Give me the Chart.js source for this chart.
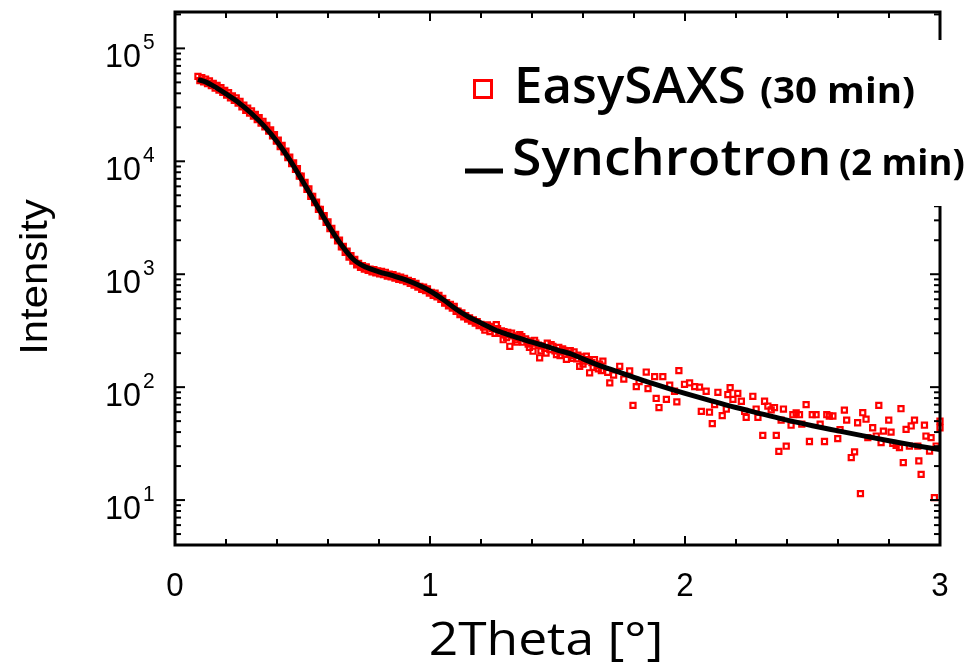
<!DOCTYPE html>
<html><head><meta charset="utf-8">
<script src="https://cdn.jsdelivr.net/npm/chart.js@4/dist/chart.umd.min.js"></script>
<style>html,body{margin:0;padding:0;background:#fff;overflow:hidden}</style>
</head><body>
<canvas id="c" width="976" height="667"></canvas>
<script>
// ---- axis definitions ----
const xTickValues = [0, 1, 2, 3];
const xTickLabels = ['0', '1', '2', '3'];
const yTickValues = [10, 100, 1000, 10000, 100000];
const yTickExponents = ['1', '2', '3', '4', '5'];
const xTitle = '2Theta [°]';
const yTitle = 'Intensity';
const seriesNames = ['EasySAXS', 'Synchrotron'];
const seriesNotes = ['(30 min)', '(2 min)'];

// ---- Synchrotron (2 min), solid black line ----
const synchX = [0.09,0.12,0.15,0.2,0.25,0.3,0.35,0.4,0.45,0.5,0.55,0.6,0.65,0.7,0.75,0.8,0.85,0.9,0.95,1.0,1.05,1.1,1.15,1.2,1.25,1.3,1.35,1.4,1.45,1.5,1.55,1.6,1.65,1.7,1.75,1.8,1.85,1.9,1.95,2.0,2.1,2.2,2.3,2.4,2.5,2.6,2.7,2.8,2.9,3.0];
const synchY = [53000,50500,46500,39500,33000,26500,20500,15000,10300,6700,4300,2750,1850,1350,1150,1050,975,900,810,710,600,495,420,370,325,295,272,250,232,213,198,178,160,146,134,122,112,103,95,88,76,66,58,51,45.5,41,37,33.5,30.5,28];

// ---- EasySAXS (30 min), red open squares ----
const easyX = [
0.09,0.105,0.12,0.135,0.15,0.165,0.18,0.195,0.21,0.225,0.24,0.255,0.27,0.285,0.3,0.315,0.33,0.345,0.36,0.375,0.39,0.405,0.42,0.435,0.45,0.465,0.48,0.495,0.51,0.525,0.54,0.555,0.57,0.585,0.6,0.615,0.63,0.645,0.66,0.675,0.69,0.705,0.72,0.735,0.75,0.765,0.78,0.795,0.81,0.825,0.84,0.855,0.87,0.885,0.9,0.915,0.93,0.945,0.96,0.975,0.99,1.005,1.02,1.035,1.05,1.065,1.08,1.095,1.11,1.125,1.14,1.155,1.17,1.185,1.2,
0.0975,0.1125,0.1275,0.1425,0.1575,0.1725,0.1875,0.2025,0.2175,0.2325,0.2475,0.2625,0.2775,0.2925,0.3075,0.3225,0.3375,0.3525,0.3675,0.3825,0.3975,0.4125,0.4275,0.4425,0.4575,0.4725,0.4875,0.5025,0.5175,0.5325,0.5475,0.5625,0.5775,0.5925,0.6075,0.6225,0.6375,0.6525,0.6675,0.6825,0.6975,0.7125,0.7275,0.7425,0.7575,0.7725,0.7875,0.8025,0.8175,0.8325,0.8475,0.8625,0.8775,0.8925,0.9075,0.9225,0.9375,0.9525,0.9675,0.9825,0.9975,1.0125,1.0275,1.0425,1.0575,1.0725,1.0875,1.1025,1.1175,1.1325,1.1475,1.1625,1.1775,1.1925,
1.21,1.225,1.235,1.245,1.26,1.27,1.28,1.287,1.295,1.305,1.313,1.325,1.335,1.345,1.352,1.365,1.375,1.385,1.395,1.404,1.415,1.43,1.44,1.45,1.46,1.47,1.482,1.496,1.505,1.515,1.525,1.535,1.545,1.555,1.565,1.575,1.587,1.595,1.605,1.613,1.626,1.635,1.645,1.655,1.665,1.672,
1.215,1.24,1.255,1.265,1.29,1.3,1.32,1.34,1.36,1.38,1.39,1.41,1.425,1.435,1.455,1.475,1.49,1.51,1.52,1.53,1.55,1.56,1.58,1.6,1.62,1.64,1.66,
1.678,1.697,1.705,1.72,1.744,1.76,1.783,1.796,1.809,1.82,1.848,1.855,1.881,1.887,1.898,1.913,1.927,1.94,1.959,1.968,1.976,1.998,2.018,2.038,2.057,2.064,2.083,2.096,2.107,2.116,2.129,2.146,2.162,2.168,2.177,2.188,2.207,2.221,2.234,2.24,2.266,2.279,2.286,2.305,2.312,2.325,2.338,2.351,2.358,2.368,2.377,2.386,2.397,2.416,2.423,2.436,2.449,2.458,2.475,2.488,2.499,2.514,2.53,2.547,2.556,2.566,2.58,2.599,2.608,2.625,2.634,2.652,2.665,2.677,2.688,2.697,2.71,2.717,2.736,2.75,2.76,2.769,2.778,2.799,2.808,2.815,2.828,2.841,2.847,2.856,2.867,2.88,2.887,2.9,2.913,2.917,2.926,2.939,2.945,2.959,2.965,2.978,2.985,3.0,3.0];
const easyY = [
56500,55000,53500,51500,49000,47000,45000,42500,40500,38000,36500,34000,31500,29500,28000,26000,24300,22600,20800,19000,17200,15400,13800,12300,10900,9700,8600,7400,6500,5700,4900,4350,3750,3300,2900,2550,2250,2000,1760,1600,1460,1350,1250,1190,1160,1110,1100,1070,1060,1040,1000,990,960,940,920,880,860,830,780,770,740,690,680,650,610,560,540,520,470,455,430,410,395,380,360,
51800,50500,48800,46700,44600,42800,40700,38600,36500,34600,32800,30400,28300,26700,25100,23400,21800,20200,18500,16800,15100,13500,12100,10800,9550,8500,7400,6450,5650,4900,4300,3750,3270,2880,2530,2230,1970,1750,1560,1420,1310,1210,1150,1110,1080,1050,1030,1010,990,960,950,925,900,885,860,830,800,770,735,715,680,650,630,600,555,525,500,470,440,420,400,385,370,350,
340,355,310,330,358,300,315,263,290,305,230,285,262,275,292,250,268,240,255,208,245,182,232,220,245,215,230,194,225,205,212,176,200,190,205,178,153,185,170,188,134,165,175,155,160,140,
320,345,300,330,310,275,300,250,280,255,225,260,235,210,200,238,210,190,218,195,210,180,192,160,175,150,145,
170,135,109,128,153,118,139,69,101,112,136,97,124,79.4,66,124,78,104,92,74,140,106,109,101,100,61,92,60,47.5,70,90,56,64,86,99,78,88,75,61,54,83,64,54,37.4,75,68,63,66,37.4,27,51,64,30,46,57,59,57,47,70,33,57,57,47,33,57,55.5,55.5,35,42,62.6,51,23.8,26.7,48.4,11.4,59.4,52,35.7,43.7,36.9,69,32.3,40.8,51,40,31.8,30.5,29.2,64.4,21.5,42.3,30.1,45.3,51,30.1,22.2,16.9,46,36.9,27.2,35.7,10.5,30.1,43.7,50];

const easyData = easyX.map((x, i) => ({x, y: easyY[i]}));
const synchData = synchX.map((x, i) => ({x, y: synchY[i]}));

const RED = '#ff0000';
const BLACK = '#000000';

function drawText(ctx, s, x, y, font, align, sx) {
  ctx.save();
  ctx.font = font;
  ctx.translate(x, y);
  ctx.scale(sx, 1);
  ctx.textAlign = align;
  ctx.textBaseline = 'alphabetic';
  ctx.fillStyle = BLACK;
  ctx.fillText(s, 0, 0);
  ctx.restore();
}

const framePlugin = {
  id: 'frame',
  afterDatasetsDraw(chart) {
    const ctx = chart.ctx, ca = chart.chartArea;
    const xs = chart.scales.x, ys = chart.scales.y;
    ctx.save();
    ctx.strokeStyle = BLACK;
    ctx.fillStyle = BLACK;
    ctx.lineWidth = 2;
    const tick = (x1, y1, x2, y2) => { ctx.beginPath(); ctx.moveTo(x1, y1); ctx.lineTo(x2, y2); ctx.stroke(); };
    for (let i = 0; i <= 15; i++) {
      const v = i / 5;
      const px = xs.getPixelForValue(v);
      const len = (i % 5 === 0) ? 9 : 6;
      tick(px, ca.bottom, px, ca.bottom - len);
      tick(px, ca.top, px, ca.top + len);
    }
    for (let d = 1; d <= 100000; d *= 10) {
      for (let m = 1; m <= 9; m++) {
        const v = d * m;
        if (v < ys.min || v > ys.max) continue;
        const py = ys.getPixelForValue(v);
        const len = (m === 1) ? 10 : 6;
        tick(ca.left, py, ca.left + len, py);
        tick(ca.right, py, ca.right - len, py);
      }
    }
    ctx.lineWidth = 3;
    ctx.strokeRect(ca.left, ca.top, ca.right - ca.left, ca.bottom - ca.top);

    yTickValues.forEach((v, i) => {
      const py = ys.getPixelForValue(v);
      drawText(ctx, '10', 141, py + 19, '34px "Liberation Sans"', 'right', 0.95);
      drawText(ctx, yTickExponents[i], 143, py + 1, '22px "Liberation Sans"', 'left', 0.95);
    });
    xTickValues.forEach((v, i) => {
      const px = xs.getPixelForValue(v);
      drawText(ctx, xTickLabels[i], px, 596, '34px "Liberation Sans"', 'center', 0.92);
    });
    drawText(ctx, xTitle, 546, 655, '46px "Open Sans"', 'center', 1.12);
    ctx.save();
    ctx.translate(47, 277);
    ctx.rotate(-Math.PI / 2);
    drawText(ctx, yTitle, 0, 0, '38px "Liberation Sans"', 'center', 1.1);
    ctx.restore();

    // legend box (opaque, covers frame)
    ctx.fillStyle = '#ffffff';
    ctx.fillRect(455, 40, 521, 166);
    ctx.strokeStyle = RED;
    ctx.lineWidth = 3;
    ctx.strokeRect(474.5, 80.5, 17, 17);
    ctx.strokeStyle = BLACK;
    ctx.lineWidth = 5;
    tick(465, 171, 503, 171);
    drawText(ctx, seriesNames[0], 514, 103, '600 51px "Open Sans"', 'left', 1.0);
    drawText(ctx, seriesNotes[0], 760, 103, 'bold 35px "Open Sans"', 'left', 1.1);
    drawText(ctx, seriesNames[1], 512, 175, '600 51px "Open Sans"', 'left', 1.05);
    drawText(ctx, seriesNotes[1], 839, 175, 'bold 35px "Open Sans"', 'left', 1.04);
    ctx.restore();
  }
};

new Chart(document.getElementById('c'), {
  type: 'scatter',
  data: {
    datasets: [
      {
        label: seriesNames[1],
        data: synchData,
        showLine: true,
        borderColor: BLACK,
        borderWidth: 5,
        pointRadius: 0,
        cubicInterpolationMode: 'monotone',
        order: 0,
        clip: false
      },
      {
        label: seriesNames[0],
        data: easyData,
        showLine: false,
        pointStyle: 'rect',
        pointRadius: 3.6,
        pointBorderWidth: 2.2,
        pointBorderColor: RED,
        pointBackgroundColor: 'rgba(255,255,255,0)',
        order: 1,
        clip: false
      }
    ]
  },
  options: {
    responsive: false,
    devicePixelRatio: 1,
    animation: false,
    layout: { padding: { left: 175, right: 36, top: 12, bottom: 122 } },
    plugins: { legend: { display: false }, tooltip: { enabled: false } },
    scales: {
      x: { type: 'linear', min: 0, max: 3, display: false },
      y: { type: 'logarithmic', min: 4, max: 210000, display: false }
    }
  },
  plugins: [framePlugin]
});
</script>
</body></html>
